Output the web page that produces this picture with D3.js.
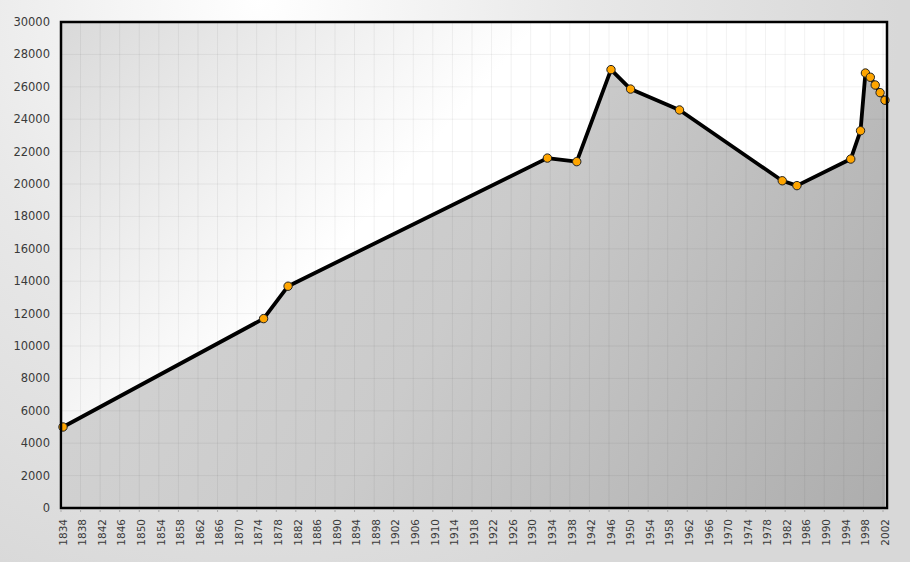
<!DOCTYPE html>
<html>
<head>
<meta charset="utf-8">
<script src="https://cdn.jsdelivr.net/npm/d3@7"></script>
<style>
  body { margin: 0; }
  #wrapper { width: 910px; height: 562px; }
  text { font-family: "DejaVu Sans", sans-serif; fill: #3a3a3a; }
</style>
</head>
<body>
<div id="wrapper"></div>
<script>
const years = [1834, 1875, 1880, 1933, 1939, 1946, 1950, 1960, 1981, 1984, 1995, 1997, 1998, 1999, 2000, 2001, 2002]
const population = [5000, 11690, 13690, 21600, 21380, 27060, 25860, 24570, 20200, 19900, 21540, 23290, 26850, 26590, 26110, 25640, 25170]
const yTicks = [0, 2000, 4000, 6000, 8000, 10000, 12000, 14000, 16000, 18000, 20000, 22000, 24000, 26000, 28000, 30000]
const xTicks = d3.range(1834, 2003, 4)

function drawChart() {
  const dataset = years.map((y, i) => [y, population[i]])
  const xAccessor = d => d[0]
  const yAccessor = d => d[1]

  const dimensions = {
    width: 910,
    height: 562,
    left: 61,
    right: 887,
    top: 22,
    bottom: 508
  }

  const svg = d3.select("#wrapper")
    .append("svg")
      .attr("width", dimensions.width)
      .attr("height", dimensions.height)

  const defs = svg.append("defs")

  const outerGrad = defs.append("radialGradient")
    .attr("id", "outer-grad")
    .attr("gradientUnits", "userSpaceOnUse")
    .attr("cx", 260).attr("cy", 0).attr("r", 640)
  outerGrad.append("stop").attr("offset", 0).attr("stop-color", "#ffffff")
  outerGrad.append("stop").attr("offset", 0.5).attr("stop-color", "#e8e8e8")
  outerGrad.append("stop").attr("offset", 1).attr("stop-color", "#d8d8d8")

  const plotGrad = defs.append("linearGradient")
    .attr("id", "plot-grad")
    .attr("gradientUnits", "userSpaceOnUse")
    .attr("x1", 61).attr("y1", 22).attr("x2", 330).attr("y2", 260)
  plotGrad.append("stop").attr("offset", 0).attr("stop-color", "#d9d9d9")
  plotGrad.append("stop").attr("offset", 1).attr("stop-color", "#ffffff")

  const areaGrad = defs.append("linearGradient")
    .attr("id", "area-grad")
    .attr("gradientUnits", "userSpaceOnUse")
    .attr("x1", 61).attr("y1", 22).attr("x2", 887).attr("y2", 508)
  areaGrad.append("stop").attr("offset", 0).attr("stop-color", "#d6d6d6")
  areaGrad.append("stop").attr("offset", 0.5).attr("stop-color", "#cbcbcb")
  areaGrad.append("stop").attr("offset", 1).attr("stop-color", "#adadad")

  svg.append("rect")
    .attr("width", dimensions.width)
    .attr("height", dimensions.height)
    .attr("fill", "url(#outer-grad)")

  svg.append("rect")
    .attr("x", dimensions.left)
    .attr("y", dimensions.top)
    .attr("width", dimensions.right - dimensions.left)
    .attr("height", dimensions.bottom - dimensions.top)
    .attr("fill", "url(#plot-grad)")

  // data scale; the grid and tick marks sit 2px left of it in the original
  const xScale = d3.scaleLinear()
    .domain([1834, 2002])
    .range([63, 885])

  const yScale = d3.scaleLinear()
    .domain([0, 30000])
    .range([dimensions.bottom, dimensions.top])

  const area = d3.area()
    .x(d => xScale(xAccessor(d)))
    .y0(yScale(0))
    .y1(d => yScale(yAccessor(d)))

  const line = d3.line()
    .x(d => xScale(xAccessor(d)))
    .y(d => yScale(yAccessor(d)))

  svg.append("path")
    .datum(dataset)
    .attr("d", area)
    .attr("fill", "url(#area-grad)")

  const grid = svg.append("g")
    .attr("stroke", "#000")
    .attr("stroke-opacity", 0.055)
    .attr("stroke-width", 1)

  grid.selectAll(".vgrid")
    .data(xTicks)
    .enter().append("line")
      .attr("x1", d => xScale(d) - 2)
      .attr("x2", d => xScale(d) - 2)
      .attr("y1", dimensions.top)
      .attr("y2", dimensions.bottom)

  grid.selectAll(".hgrid")
    .data(yTicks)
    .enter().append("line")
      .attr("x1", dimensions.left)
      .attr("x2", dimensions.right)
      .attr("y1", d => yScale(d))
      .attr("y2", d => yScale(d))

  svg.append("path")
    .datum(dataset)
    .attr("d", line)
    .attr("fill", "none")
    .attr("stroke", "#000")
    .attr("stroke-width", 3.8)
    .attr("stroke-linejoin", "round")

  svg.selectAll(".dot")
    .data(dataset)
    .enter().append("circle")
      .attr("cx", d => xScale(xAccessor(d)))
      .attr("cy", d => yScale(yAccessor(d)))
      .attr("r", 4.2)
      .attr("fill", "#ffa500")
      .attr("stroke", "#222")
      .attr("stroke-width", 1)

  svg.append("rect")
    .attr("x", dimensions.left)
    .attr("y", dimensions.top)
    .attr("width", dimensions.right - dimensions.left)
    .attr("height", dimensions.bottom - dimensions.top)
    .attr("fill", "none")
    .attr("stroke", "#000")
    .attr("stroke-width", 2.5)

  // tick marks below the x axis
  svg.append("g")
    .selectAll("line")
    .data(xTicks)
    .enter().append("line")
      .attr("x1", d => xScale(d) - 2)
      .attr("x2", d => xScale(d) - 2)
      .attr("y1", dimensions.bottom + 1)
      .attr("y2", dimensions.bottom + 4)
      .attr("stroke", "#aaa")

  svg.append("g")
    .selectAll("text")
    .data(xTicks)
    .enter().append("text")
      .attr("transform", d => `translate(${xScale(d)}, ${dimensions.bottom + 11}) rotate(-90)`)
      .attr("text-anchor", "end")
      .attr("dy", "0.35em")
      .style("font-size", "10.5px")
      .text(d => d)

  svg.append("g")
    .selectAll("text")
    .data(yTicks)
    .enter().append("text")
      .attr("x", 50)
      .attr("y", d => yScale(d))
      .attr("text-anchor", "end")
      .attr("dy", "0.35em")
      .style("font-size", "11.5px")
      .text(d => d)
}

drawChart()
</script>
</body>
</html>
